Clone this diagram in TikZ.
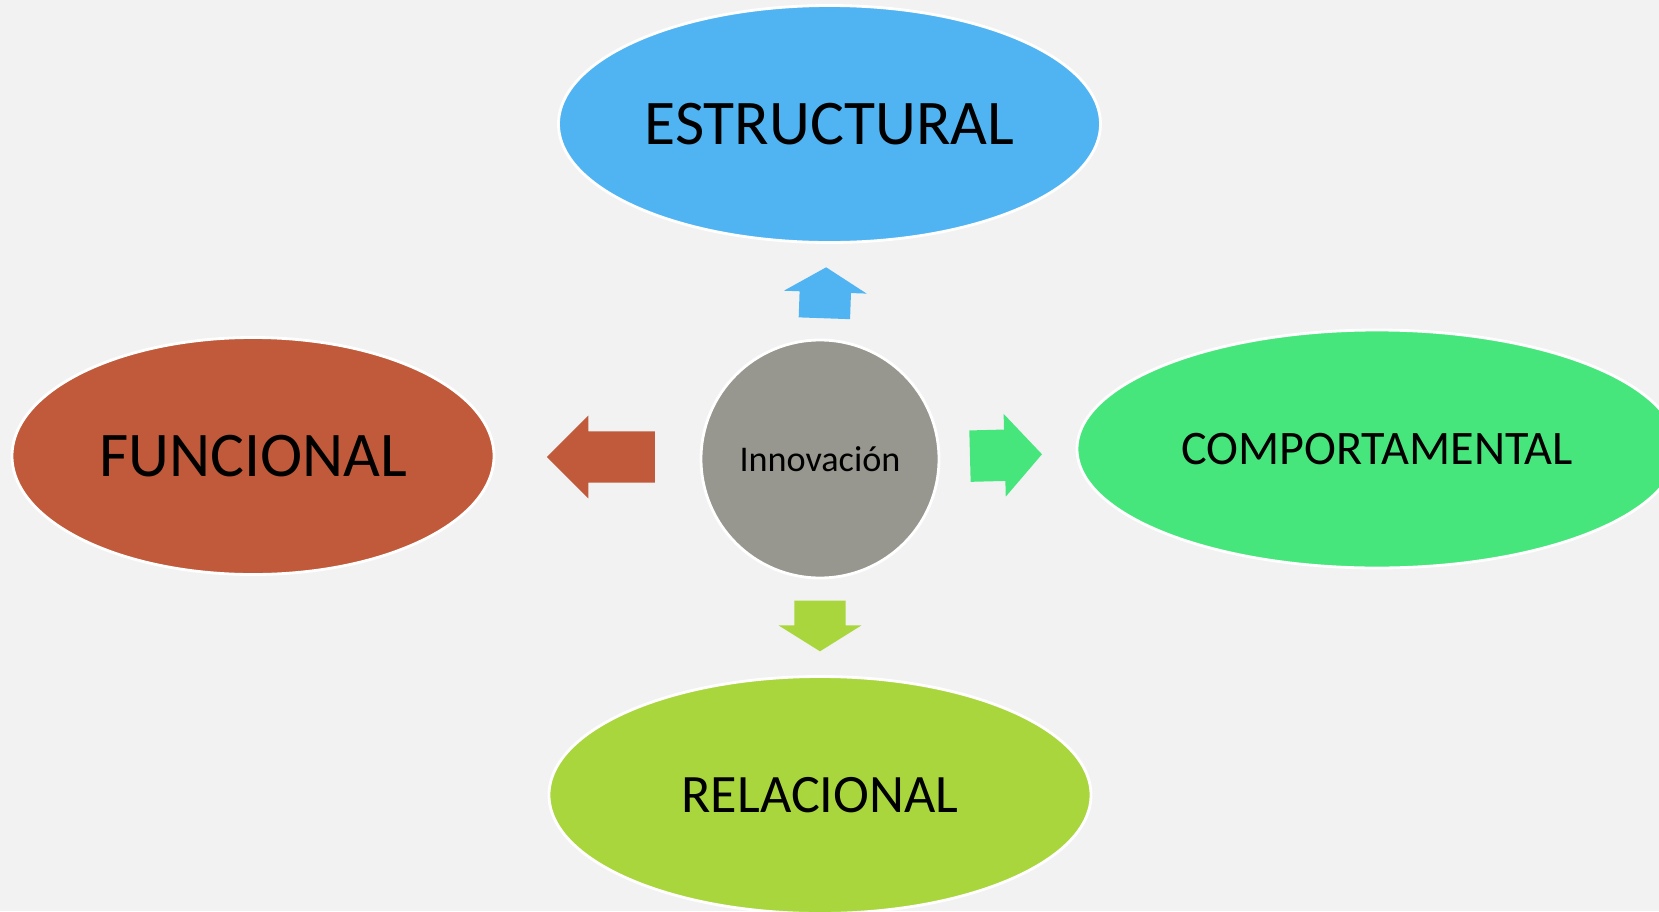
\documentclass[tikz,border=0pt]{standalone}
\usepackage{fontspec}
\setmainfont{Carlito}
\usetikzlibrary{shapes.geometric,shapes.arrows}

\definecolor{bgcol}{HTML}{F2F2F2}
\definecolor{estrcol}{HTML}{50B4F2}
\definecolor{funccol}{HTML}{C05A3B}
\definecolor{compcol}{HTML}{47E67D}
\definecolor{relcol}{HTML}{A9D63D}
\definecolor{innocol}{HTML}{97978F}

\begin{document}
\begin{tikzpicture}[
  facet/.style={ellipse, draw=white, line width=0.8pt, inner sep=0pt, minimum height=2.37cm},
  core/.style={circle, draw=white, line width=0.8pt, fill=innocol, minimum size=2.38cm, inner sep=0pt},
  push/.style={single arrow, draw=none, inner sep=0pt, text height=0.25cm, text depth=0.25cm, single arrow head extend=0.157cm}
]

% --- CANVAS ---
\useasboundingbox (0,0) rectangle (16.59,9.11);
\fill[bgcol] (0,0) rectangle (16.59,9.11);
\clip (0,0) rectangle (16.59,9.11);

% Draw the core idea
\node[core] (inno) at (8.20, 4.52) {\fontsize{10.3}{12}\selectfont Innovación};

% Draw the four facets around it
\node[facet, fill=estrcol, minimum width=5.42cm] (estr) at (8.295, 7.87) {\fontsize{18.1}{22}\selectfont ESTRUCTURAL};
\node[facet, fill=funccol, minimum width=4.82cm] (func) at (2.53, 4.55) {\fontsize{18.1}{22}\selectfont FUNCIONAL};
\node[facet, fill=compcol, minimum width=6.0cm, minimum height=2.38cm] (comp) at (13.77, 4.62) {\fontsize{13.7}{16}\selectfont COMPORTAMENTAL};
\node[facet, fill=relcol, minimum width=5.42cm] (rel) at (8.20, 1.16) {\fontsize{15.4}{18}\selectfont RELACIONAL};

% Block arrows pointing from the core to each facet
\node[push, fill=estrcol, minimum height=0.51cm, single arrow tip angle=118, rotate=88] (p_estr) at (8.25, 6.105) {};
\node[push, fill=funccol, minimum height=1.08cm, single arrow tip angle=90, rotate=180] (p_func) at (6.137, 4.54) {};
\node[push, fill=compcol, minimum height=0.72cm, single arrow tip angle=96, rotate=1.5] (p_comp) at (9.944, 4.555) {};
\node[push, fill=relcol, minimum height=0.507cm, single arrow tip angle=116, rotate=-90] (p_rel) at (8.20, 2.931) {};

\end{tikzpicture}
\end{document}
